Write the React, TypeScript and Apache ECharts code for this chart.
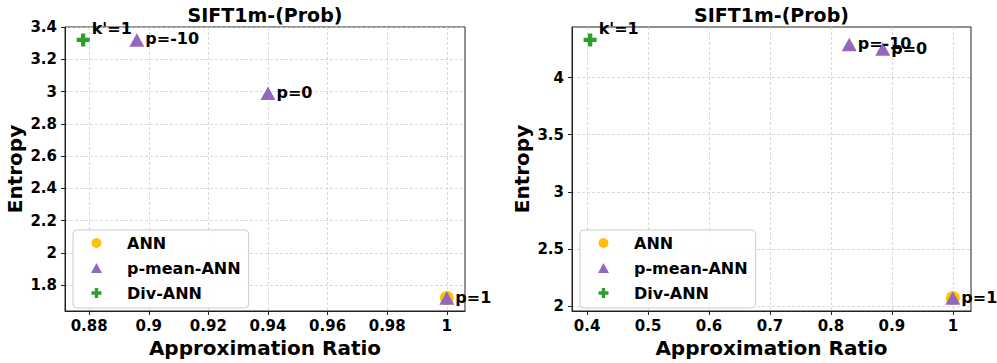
import React, { useEffect, useRef } from 'react';
import * as echarts from 'echarts';

const TITLE = 'SIFT1m-(Prob)';
const X_NAME = 'Approximation Ratio';
const Y_NAME = 'Entropy';
const SERIES_NAMES = ['ANN', 'p-mean-ANN', 'Div-ANN'];

// Left panel: [approximation ratio, entropy, label]
const annLeft: (number | string)[][] = [[1.0, 1.72]];
const pmeanLeft: (number | string)[][] = [
  [0.896, 3.32, 'p=-10'],
  [0.94, 2.99, 'p=0'],
  [1.0, 1.72, 'p=1'],
];
const divLeft: (number | string)[][] = [[0.878, 3.32, "k'=1"]];
const xTicksLeft = [0.88, 0.9, 0.92, 0.94, 0.96, 0.98, 1];
const yTicksLeft = [1.8, 2, 2.2, 2.4, 2.6, 2.8, 3, 3.2, 3.4];

// Right panel
const annRight: (number | string)[][] = [[1.0, 2.07]];
const pmeanRight: (number | string)[][] = [
  [0.83, 4.29, 'p=-10'],
  [0.885, 4.25, 'p=0'],
  [1.0, 2.07, 'p=1'],
];
const divRight: (number | string)[][] = [[0.405, 4.33, "k'=1"]];
const xTicksRight = [0.4, 0.5, 0.6, 0.7, 0.8, 0.9, 1];
const yTicksRight = [2, 2.5, 3, 3.5, 4];

const COLORS = { ann: '#ffc107', pmean: '#9467bd', div: '#2ca02c' };
const PLUS = 'path://M1,0H2V1H3V2H2V3H1V2H0V1H1Z';
const TRIANGLE = 'path://M1,0L2,1.8H0Z';
const FONT = 'DejaVu Sans';

// data extent with a 5% margin on each side
function padded(rows: (number | string)[][], dim: number) {
  const vals = rows.map((r) => r[dim] as number);
  const lo = Math.min(...vals);
  const hi = Math.max(...vals);
  const m = (hi - lo) * 0.05;
  return { min: lo - m, max: hi + m };
}

const fmt = (v: number) => String(Number(v.toFixed(3)));

function buildAxes(gridIndex: number, rows: (number | string)[][], xt: number[], yt: number[]) {
  const common = {
    gridIndex,
    axisLine: { show: true, onZero: false, lineStyle: { color: '#222', width: 1 } },
    axisTick: { show: true, inside: false, length: 4, lineStyle: { color: '#222' } },
    splitLine: { show: true, lineStyle: { color: '#cfcfcf', type: [3, 2], width: 0.8 } },
    nameTextStyle: { fontFamily: FONT, fontWeight: 'bold', fontSize: 20, color: '#000' },
  };
  const xe = padded(rows, 0);
  const ye = padded(rows, 1);
  const x = {
    ...common,
    type: 'value',
    min: xe.min,
    max: xe.max,
    name: X_NAME,
    nameLocation: 'middle',
    nameGap: 27,
    axisTick: { ...common.axisTick, customValues: xt },
    axisLabel: {
      customValues: xt,
      formatter: fmt,
      margin: 7,
      fontFamily: FONT,
      fontWeight: 'bold',
      fontSize: 15,
      color: '#000',
    },
  };
  const y = {
    ...common,
    type: 'value',
    min: ye.min,
    max: ye.max,
    name: Y_NAME,
    nameLocation: 'middle',
    nameGap: 40,
    axisTick: { ...common.axisTick, customValues: yt },
    axisLabel: {
      customValues: yt,
      formatter: fmt,
      margin: 8,
      fontFamily: FONT,
      fontWeight: 'bold',
      fontSize: 15,
      color: '#000',
    },
  };
  return { x, y };
}

const pointLabel = {
  show: true,
  position: 'right',
  distance: 1,
  offset: [0, -1],
  formatter: (p: any) => p.value[2],
  fontFamily: FONT,
  fontWeight: 'bold',
  fontSize: 16,
  color: '#000',
};

function panelSeries(idx: number, ann: any[], pmean: any[], div: any[]) {
  return [
    {
      name: SERIES_NAMES[0],
      type: 'scatter',
      xAxisIndex: idx,
      yAxisIndex: idx,
      symbol: 'circle',
      symbolSize: 14,
      itemStyle: { color: COLORS.ann, opacity: 1 },
      data: ann,
      z: 2,
    },
    {
      name: SERIES_NAMES[1],
      type: 'scatter',
      xAxisIndex: idx,
      yAxisIndex: idx,
      symbol: TRIANGLE,
      symbolKeepAspect: true,
      symbolSize: 15,
      itemStyle: { color: COLORS.pmean, opacity: 1 },
      label: pointLabel,
      data: pmean,
      z: 3,
    },
    {
      name: SERIES_NAMES[2],
      type: 'scatter',
      xAxisIndex: idx,
      yAxisIndex: idx,
      symbol: PLUS,
      symbolSize: 13,
      itemStyle: { color: COLORS.div, opacity: 1 },
      label: { ...pointLabel, distance: 2, offset: [0, -11] },
      data: div,
      z: 4,
    },
  ];
}

function legendAt(left: number) {
  return {
    left,
    top: 230,
    orient: 'vertical',
    itemWidth: 11,
    itemHeight: 10,
    itemGap: 9,
    padding: [5, 8, 7, 18],
    backgroundColor: 'rgba(255,255,255,0.85)',
    borderColor: '#cccccc',
    borderWidth: 1,
    borderRadius: 4,
    textStyle: {
      fontFamily: FONT,
      fontWeight: 'bold',
      fontSize: 16,
      color: '#000',
      padding: [0, 0, 0, 20],
    },
    data: [
      { name: SERIES_NAMES[0], icon: 'circle' },
      { name: SERIES_NAMES[1], icon: TRIANGLE },
      { name: SERIES_NAMES[2], icon: PLUS },
    ],
  };
}

export default function App() {
  const ref = useRef<HTMLDivElement>(null);

  useEffect(() => {
    if (!ref.current) return;
    const chart = echarts.init(ref.current, null, { renderer: 'svg' });

    const leftRows = [...annLeft, ...pmeanLeft, ...divLeft];
    const rightRows = [...annRight, ...pmeanRight, ...divRight];
    const a0 = buildAxes(0, leftRows, xTicksLeft, yTicksLeft);
    const a1 = buildAxes(1, rightRows, xTicksRight, yTicksRight);

    const grids = [
      { left: 65, top: 27, width: 400, height: 289 },
      { left: 572, top: 27, width: 399, height: 289 },
    ];

    chart.setOption({
      animation: false,
      backgroundColor: '#fff',
      grid: grids.map((g) => ({ ...g, show: true, borderColor: '#222', borderWidth: 1, backgroundColor: 'transparent' })),
      xAxis: [a0.x, a1.x],
      yAxis: [a0.y, a1.y],
      legend: [legendAt(73), legendAt(580)],
      graphic: grids.map((g) => ({
        type: 'text',
        x: g.left + g.width / 2,
        y: 15,
        style: {
          text: TITLE,
          fontFamily: FONT,
          fontWeight: 'bold',
          fontSize: 19,
          fill: '#000',
          align: 'center',
          verticalAlign: 'middle',
        },
      })),
      series: [
        ...panelSeries(0, annLeft, pmeanLeft, divLeft),
        ...panelSeries(1, annRight, pmeanRight, divRight),
      ],
    });

    return () => chart.dispose();
  }, []);

  return (
    <div
      ref={ref}
      style={{ position: 'fixed', left: 0, top: 0, width: 997, height: 363, background: '#fff' }}
    />
  );
}
